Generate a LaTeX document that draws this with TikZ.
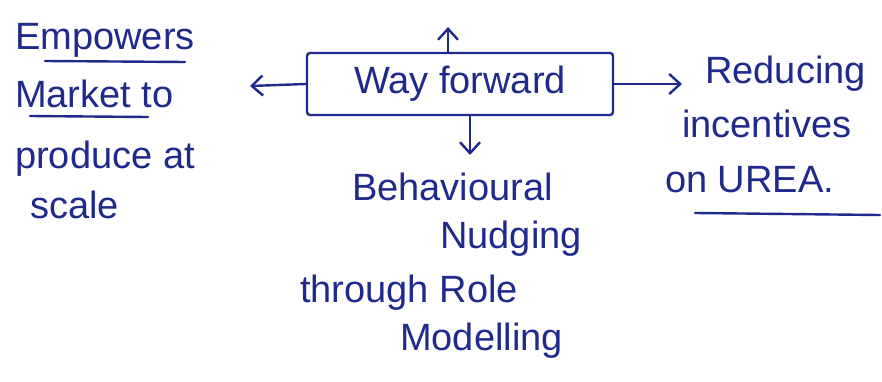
\documentclass[tikz,border=0pt]{standalone}
\usepackage{fontspec}
\setmainfont{Liberation Sans}
\usetikzlibrary{arrows.meta}
\definecolor{ink}{RGB}{32,42,140}
\tikzset{
  hand/.style={text=ink, font=\fontsize{38}{46}\selectfont, inner sep=0pt, anchor=base west},
  conn/.style={draw=ink, line width=2.4pt, line cap=round, -{Straight Barb[length=11pt,width=20pt,line width=2.4pt]}},
  uline/.style={draw=ink, line width=2.4pt, line cap=round},
  mainbox/.style={draw=ink, line width=2.4pt, rounded corners=3pt, minimum width=306pt, minimum height=62pt, text=ink, font=\fontsize{38}{46}\selectfont, inner sep=0pt}
}
\begin{document}
\begin{tikzpicture}[x=1pt,y=-1pt]
\useasboundingbox[fill=white] (0,0) rectangle (882,382);
% left text
\node[hand] (l1) at (15,50) {Empowers};
\node[hand] (l2) at (15,108) {Market to};
\node[hand] (l3) at (15,168) {produce at};
\node[hand] (l4) at (30,218) {scale};
\draw[uline] (45,61) -- (185,62);
\draw[uline] (30,116) -- (148,117);
% central box
\node[mainbox] (box) at (460,84) {Way forward};
% right text
\node[hand] (r1) at (705,84) {Reducing};
\node[hand] (r2) at (682,138) {incentives};
\node[hand] (r3) at (665,192) {on UREA.};
\draw[uline] (695,213) -- (880,215);
% bottom text
\node[hand] (b1) at (352,200) {Behavioural};
\node[hand] (b2) at (440,248) {Nudging};
\node[hand] (b3) at (300,302) {through Role};
\node[hand] (b4) at (400,350) {Modelling};
% connectors
\coordinate (la) at (250,86);
\coordinate (ra) at (682,84);
\coordinate (ua) at (448,27);
\coordinate (da) at (470,155);
\draw[conn] (box.west) -- (la);
\draw[conn] (box.east) -- (ra);
\draw[conn] (box.north -| ua) -- (ua);
\draw[conn] (box.south -| da) -- (da);
\end{tikzpicture}
\end{document}
